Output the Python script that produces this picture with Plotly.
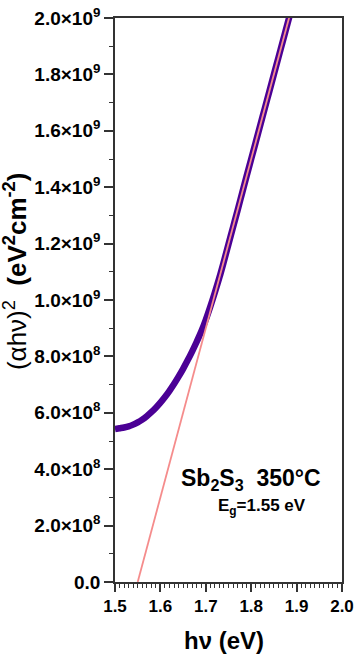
import plotly.graph_objects as go

# Photon energy (eV) and Tauc values (αhν)^2 in units of 1e8 eV^2 cm^-2
photon_energy = [1.50, 1.51, 1.52, 1.53, 1.54, 1.55, 1.56, 1.57, 1.58, 1.59,
                 1.60, 1.61, 1.62, 1.63, 1.64, 1.65, 1.66, 1.67, 1.68, 1.69,
                 1.70, 1.71, 1.72, 1.73, 1.74, 1.75, 1.76, 1.77, 1.78, 1.79,
                 1.80, 1.81, 1.82, 1.83, 1.84, 1.85, 1.86, 1.87, 1.88, 1.89]
tauc_1e8 = [5.42, 5.45, 5.48, 5.52, 5.58, 5.66, 5.76, 5.88, 6.02, 6.18,
            6.36, 6.56, 6.78, 7.02, 7.28, 7.56, 7.86, 8.18, 8.52, 8.88,
            9.30, 9.77, 10.27, 10.80, 11.38, 11.98, 12.58, 13.18, 13.79, 14.40,
            15.00, 15.60, 16.20, 16.80, 17.40, 18.00, 18.60, 19.20, 19.80, 20.40]

# Linear fit of the absorption edge
band_gap = 1.55            # eV
fit_slope = 6.0e9          # eV cm^-2 per eV
fit_x = [band_gap, 1.90]

x_ticks = [1.5, 1.6, 1.7, 1.8, 1.9, 2.0]
y_tick_vals = [0, 2e8, 4e8, 6e8, 8e8, 1.0e9, 1.2e9, 1.4e9, 1.6e9, 1.8e9, 2.0e9]
y_tick_mant = ["0.0", "2.0", "4.0", "6.0", "8.0", "1.0", "1.2", "1.4", "1.6", "1.8", "2.0"]
y_tick_exp = [None, 8, 8, 8, 8, 9, 9, 9, 9, 9, 9]

tauc = [v * 1e8 for v in tauc_1e8]
fit_y = [fit_slope * (x - band_gap) for x in fit_x]


def sci_label(mant, exp):
    if exp is None:
        return f"<b>{mant}</b>"
    return f"<b>{mant}×10<sup>{exp}</sup></b>"


fig = go.Figure()
fig.add_trace(go.Scatter(
    x=photon_energy, y=tauc, mode="lines",
    line=dict(color="#4B0095", width=6.5, shape="spline"),
    showlegend=False, hoverinfo="skip"))
fig.add_trace(go.Scatter(
    x=fit_x, y=fit_y, mode="lines",
    line=dict(color="#F58C8C", width=1.8),
    showlegend=False, hoverinfo="skip"))

font_family = "Liberation Sans, Arial, sans-serif"
axis_color = "#333333"

fig.update_layout(
    width=354, height=655,
    margin=dict(l=115, r=12, t=18, b=73),
    paper_bgcolor="white", plot_bgcolor="white",
    font=dict(family=font_family, color="black"),
)
fig.update_xaxes(
    range=[1.5, 2.0], tickmode="array", tickvals=x_ticks,
    ticktext=[f"<b>{v:.1f}</b>" for v in x_ticks],
    showgrid=False, zeroline=False, automargin=False,
    showline=True, linecolor=axis_color, linewidth=1.6, mirror=True,
    ticks="outside", ticklen=8, tickwidth=1.6, tickcolor=axis_color,
    tickfont=dict(size=17, family=font_family, color="black"),
    minor=dict(dtick=0.01, ticks="outside", ticklen=4, tickwidth=1.2,
               tickcolor=axis_color, showgrid=False),
)
fig.update_yaxes(
    range=[0, 2.0e9], tickmode="array", tickvals=y_tick_vals,
    ticktext=[sci_label(m, e) for m, e in zip(y_tick_mant, y_tick_exp)],
    showgrid=False, zeroline=False, automargin=False,
    showline=True, linecolor=axis_color, linewidth=1.6, mirror=True,
    ticks="outside", ticklen=9, tickwidth=1.6, tickcolor=axis_color,
    tickfont=dict(size=19, family=font_family, color="black"),
    minor=dict(dtick=1e8, ticks="outside", ticklen=4, tickwidth=1.2,
               tickcolor=axis_color, showgrid=False),
)

fig.add_annotation(x=0.48, y=-0.103, xref="paper", yref="paper",
                   text="<b>hν (eV)</b>", showarrow=False,
                   font=dict(size=24, family=font_family), xanchor="center", yanchor="middle")
fig.add_annotation(x=-0.435, y=0.55, xref="paper", yref="paper", textangle=-90,
                   text="(αhν)<sup>2</sup>  <b>(eV<sup>2</sup>cm<sup>-2</sup>)</b>",
                   showarrow=False,
                   font=dict(size=26, family=font_family), xanchor="center", yanchor="middle")
fig.add_annotation(x=0.60, y=0.181, xref="paper", yref="paper",
                   text="<b>Sb<sub>2</sub>S<sub>3</sub>  350°C</b>", showarrow=False,
                   font=dict(size=23, family=font_family), xanchor="center", yanchor="middle")
fig.add_annotation(x=0.648, y=0.133, xref="paper", yref="paper",
                   text="<b>E<sub>g</sub>=1.55 eV</b>", showarrow=False,
                   font=dict(size=17, family=font_family), xanchor="center", yanchor="middle")

fig.write_html("out.html")
